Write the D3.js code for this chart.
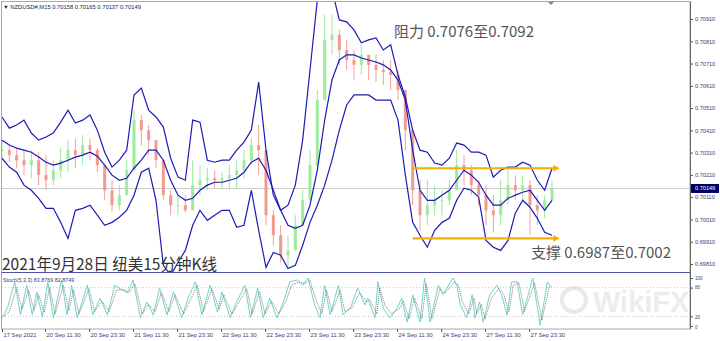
<!DOCTYPE html>
<html><head><meta charset="utf-8">
<script src="https://cdn.jsdelivr.net/npm/d3@7"></script>
<style>
body{margin:0;background:#fff;}
svg{display:block;font-family:"Liberation Sans",Arial,sans-serif;}
</style></head><body>
<svg id="chart" width="720" height="341"></svg>
<script>
// one sample every 8 bars of M15
const step = 8;
const upper = [0.70470,0.70420,0.70434,0.70456,0.70398,0.70366,0.70380,0.70398,0.70447,0.70501,0.70443,0.70456,0.70479,0.70411,0.70312,0.70245,0.70276,0.70321,0.70569,0.70600,0.70501,0.70470,0.70425,0.70285,0.70200,0.70186,0.70456,0.70447,0.70276,0.70267,0.70276,0.70276,0.70321,0.70357,0.70411,0.70627,0.70321,0.70119,0.70051,0.70074,0.70164,0.70366,0.70681,0.70996,0.71086,0.71041,0.70906,0.70897,0.70861,0.70803,0.70816,0.70825,0.70771,0.70794,0.70659,0.70560,0.70411,0.70321,0.70312,0.70263,0.70254,0.70285,0.70353,0.70344,0.70312,0.70312,0.70299,0.70200,0.70231,0.70245,0.70245,0.70267,0.70254,0.70186,0.70141,0.70240];
const middle = [0.70366,0.70344,0.70330,0.70321,0.70312,0.70290,0.70267,0.70254,0.70263,0.70276,0.70290,0.70299,0.70312,0.70294,0.70254,0.70209,0.70186,0.70195,0.70240,0.70276,0.70321,0.70321,0.70276,0.70186,0.70119,0.70096,0.70105,0.70141,0.70164,0.70177,0.70177,0.70186,0.70195,0.70222,0.70267,0.70285,0.70231,0.70141,0.70051,0.69984,0.69970,0.69984,0.70074,0.70231,0.70456,0.70636,0.70726,0.70749,0.70749,0.70735,0.70726,0.70717,0.70704,0.70681,0.70636,0.70546,0.70321,0.70141,0.70096,0.70096,0.70119,0.70141,0.70186,0.70231,0.70209,0.70177,0.70119,0.70074,0.70074,0.70105,0.70119,0.70132,0.70141,0.70096,0.70051,0.70096];
const lower = [0.70285,0.70245,0.70222,0.70164,0.70141,0.70105,0.70060,0.70060,0.69997,0.69925,0.70051,0.70060,0.70074,0.70029,0.69984,0.69997,0.70020,0.70051,0.70119,0.70222,0.70240,0.70096,0.69804,0.69759,0.69817,0.69871,0.69984,0.70051,0.70006,0.70029,0.70051,0.70051,0.69975,0.69984,0.70141,0.69961,0.69795,0.69862,0.69849,0.69790,0.69804,0.69894,0.69997,0.70074,0.70164,0.70276,0.70411,0.70524,0.70569,0.70569,0.70569,0.70546,0.70546,0.70546,0.70456,0.70209,0.69997,0.69939,0.69885,0.69961,0.69997,0.70015,0.70096,0.70150,0.70141,0.70110,0.69916,0.69885,0.69871,0.69916,0.70038,0.70096,0.70065,0.70015,0.69952,0.69939];
const highs = [0.70366,0.70344,0.70330,0.70321,0.70321,0.70312,0.70299,0.70276,0.70330,0.70366,0.70375,0.70389,0.70375,0.70330,0.70254,0.70186,0.70164,0.70276,0.70501,0.70479,0.70434,0.70366,0.70276,0.70141,0.70119,0.70119,0.70276,0.70254,0.70240,0.70231,0.70222,0.70254,0.70276,0.70321,0.70375,0.70434,0.70231,0.70051,0.69984,0.69939,0.70029,0.70141,0.70321,0.70591,0.70929,0.70929,0.70861,0.70816,0.70771,0.70794,0.70749,0.70749,0.70726,0.70726,0.70681,0.70569,0.70321,0.70186,0.70186,0.70164,0.70141,0.70186,0.70321,0.70299,0.70254,0.70186,0.70164,0.70119,0.70186,0.70231,0.70209,0.70209,0.70186,0.70119,0.70119,0.70186];
const lows = [0.70285,0.70267,0.70240,0.70209,0.70195,0.70164,0.70141,0.70164,0.70195,0.70222,0.70240,0.70254,0.70276,0.70222,0.70096,0.70042,0.70051,0.70119,0.70321,0.70344,0.70299,0.70240,0.70096,0.70029,0.70029,0.70042,0.70051,0.70119,0.70141,0.70150,0.70150,0.70141,0.70150,0.70195,0.70254,0.70209,0.69984,0.69894,0.69817,0.69790,0.69894,0.69984,0.70096,0.70231,0.70636,0.70749,0.70704,0.70681,0.70636,0.70659,0.70636,0.70627,0.70614,0.70591,0.70546,0.70321,0.70074,0.69961,0.69984,0.70029,0.70029,0.70074,0.70164,0.70164,0.70119,0.70074,0.69984,0.69952,0.69984,0.70074,0.70096,0.70096,0.69939,0.69984,0.70015,0.70096];
const closes = [0.70321,0.70299,0.70276,0.70254,0.70276,0.70209,0.70186,0.70231,0.70276,0.70321,0.70299,0.70344,0.70321,0.70254,0.70141,0.70074,0.70119,0.70231,0.70456,0.70411,0.70366,0.70276,0.70119,0.70074,0.70074,0.70051,0.70164,0.70186,0.70195,0.70186,0.70195,0.70209,0.70231,0.70276,0.70344,0.70321,0.70029,0.69939,0.69849,0.69871,0.69984,0.70096,0.70254,0.70546,0.70816,0.70839,0.70771,0.70726,0.70704,0.70749,0.70704,0.70681,0.70672,0.70659,0.70591,0.70411,0.70141,0.70029,0.70074,0.70096,0.70096,0.70141,0.70254,0.70231,0.70164,0.70119,0.70051,0.70029,0.70096,0.70164,0.70141,0.70164,0.70074,0.70051,0.70096,0.70149];

const stochBars = [0,6,14,20,27,33,38,44,50,56,65,71,76,82,93,99,107,115,123,131,137,143,151,158,165,172,180,187,196,203,211,218,227,235,240,249,256,265,271,279,285,292,300,307,314,322,328,334,341,347,352,358,367,372,380,388,396,399,407,410,416,423,431,436,442,448,456,461,467,476,481,492,496,500,507,513,516,521,525,532,540,545,551,556,562,568,579,587,595,598];
const stochK = [17,38,92,23,85,23,71,19,92,17,96,23,85,17,85,23,58,23,85,75,69,96,17,50,23,79,23,71,17,58,92,23,85,29,71,17,50,85,17,79,17,58,17,50,92,96,85,100,44,17,85,23,85,23,37,79,44,58,17,92,37,17,37,58,8,65,8,100,8,85,65,100,85,44,17,65,17,50,8,65,85,65,23,92,92,23,100,2,92,84];
const stochD = [20,30,80,35,75,32,65,28,80,25,85,32,75,25,78,30,52,30,75,76,70,88,25,45,30,70,30,65,25,52,85,30,78,35,65,25,48,78,25,72,25,52,25,48,85,92,88,95,52,25,75,30,75,30,38,70,50,55,25,80,42,25,35,52,15,58,15,88,15,78,68,92,85,52,25,58,25,45,15,58,78,68,30,85,90,30,90,12,82,83];

const priceTicks = [0.69810,0.69910,0.70010,0.70110,0.70210,0.70310,0.70410,0.70510,0.70610,0.70710,0.70810,0.70910];
const stochTicks = [0, 20, 80, 100];
const timeTicks = [0,47,95,143,191,239,287,335,383,431,479,527,575];
const timeLabels = ['17 Sep 2021','20 Sep 11:30','20 Sep 23:30','21 Sep 11:30','21 Sep 23:30','22 Sep 11:30','22 Sep 23:30','23 Sep 11:30','23 Sep 23:30','24 Sep 11:30','24 Sep 23:30','27 Sep 11:30','27 Sep 23:30'];
const lastPrice = 0.70149;
const levels = [0.70240, 0.69925];
const levelSpan = [448, 605];

const svg = d3.select('#chart');
const plot = {left: 2, right: 690, top: 2, bottom: 272};
const sub = {top: 273, bottom: 329};

const x = d3.scaleLinear().domain([0, 600]).range([2, 552]);
const y = d3.scaleLinear().domain([0.69810, 0.70910]).range([264, 19]);
const ys = d3.scaleLinear().domain([0, 100]).range([326, 278]);
const bars = closes.map((d, i) => i * step);

const defs = svg.append('defs');
defs.append('clipPath').attr('id', 'mainClip').append('rect')
  .attr('x', plot.left).attr('y', plot.top).attr('width', plot.right - plot.left).attr('height', plot.bottom - plot.top);
defs.append('clipPath').attr('id', 'subClip').append('rect')
  .attr('x', plot.left).attr('y', sub.top).attr('width', plot.right - plot.left).attr('height', sub.bottom - sub.top);
defs.append('marker').attr('id', 'arrow').attr('viewBox', '0 0 10 10').attr('refX', 5).attr('refY', 5)
  .attr('markerWidth', 3).attr('markerHeight', 3).attr('orient', 'auto')
  .append('path').attr('d', 'M0,0L10,5L0,10z').attr('fill', '#f5b000');

// frame
svg.append('rect').attr('x', 1.5).attr('y', 1.5).attr('width', plot.right - 1.5).attr('height', sub.bottom - 1.5)
  .attr('fill', 'none').attr('stroke', '#a8a8a8');

const main = svg.append('g').attr('clip-path', 'url(#mainClip)');

// current price line
main.append('line').attr('x1', plot.left).attr('x2', plot.right)
  .attr('y1', Math.round(y(lastPrice)) + 0.5).attr('y2', Math.round(y(lastPrice)) + 0.5)
  .attr('stroke', '#cccccc');

// candles
const candles = closes.map((c, i) => ({t: bars[i], o: i ? closes[i - 1] : c, h: highs[i], l: lows[i], c}));
const cg = main.append('g');
cg.selectAll('line').data(candles).enter().append('line')
  .attr('x1', d => x(d.t)).attr('x2', d => x(d.t))
  .attr('y1', d => y(Math.max(d.h, d.o, d.c))).attr('y2', d => y(Math.min(d.l, d.o, d.c)))
  .attr('stroke', d => d.c >= d.o ? '#9ae89a' : '#f2a098').attr('stroke-width', 1);
cg.selectAll('rect').data(candles).enter().append('rect')
  .attr('x', d => x(d.t) - 1.5).attr('width', 3)
  .attr('y', d => y(Math.max(d.o, d.c))).attr('height', d => Math.max(1, Math.abs(y(d.o) - y(d.c))))
  .attr('fill', d => d.c >= d.o ? '#9cec9c' : '#f29a90');

// bollinger bands
const line = d3.line().x((d, i) => x(bars[i])).y(d => y(d));
[upper, middle, lower].forEach(s => {
  main.append('path').attr('d', line(s)).attr('fill', 'none')
    .attr('stroke', '#1c1cb4').attr('stroke-width', 1.2);
});

// support / resistance
levels.forEach(v => {
  main.append('line').attr('x1', x(levelSpan[0])).attr('x2', x(levelSpan[1]))
    .attr('y1', y(v)).attr('y2', y(v))
    .attr('stroke', '#f5b000').attr('stroke-width', 2.2).attr('marker-end', 'url(#arrow)');
});

// price axis
const yAxis = svg.append('g').attr('transform', `translate(${plot.right},0)`)
  .call(d3.axisRight(y).tickValues(priceTicks).tickSize(3).tickFormat(d3.format('.5f')));
yAxis.select('.domain').remove();
yAxis.selectAll('text').attr('font-size', 5.6).attr('fill', '#3a3a7a').attr('x', 5);
yAxis.selectAll('line').attr('stroke', '#555');

// last price box
svg.append('rect').attr('x', plot.right + 1).attr('y', y(lastPrice) - 4.5).attr('width', 28).attr('height', 9).attr('fill', '#000066');
svg.append('text').attr('x', plot.right + 5).attr('y', y(lastPrice) + 2).attr('font-size', 5.6).attr('fill', '#fff').text(lastPrice.toFixed(5));

// separator between panels
svg.append('line').attr('x1', plot.left).attr('x2', plot.right).attr('y1', 272.5).attr('y2', 272.5).attr('stroke', '#5050b0');
svg.append('line').attr('x1', plot.right + 0.5).attr('x2', plot.right + 0.5).attr('y1', 1.5).attr('y2', sub.bottom).attr('stroke', '#666');

// watermark (behind the indicator lines)
const wm = svg.append('g').attr('opacity', 0.55);
wm.append('circle').attr('cx', 574).attr('cy', 300).attr('r', 12).attr('fill', 'none').attr('stroke', '#d8d8d8').attr('stroke-width', 4);
wm.append('text').attr('x', 593).attr('y', 312).attr('font-size', 29).attr('font-weight', 'bold').attr('fill', '#dedede')
  .text('WikiFX');

// stochastic
const subG = svg.append('g').attr('clip-path', 'url(#subClip)');
[20, 80].forEach(v => {
  subG.append('line').attr('x1', plot.left).attr('x2', plot.right).attr('y1', ys(v)).attr('y2', ys(v))
    .attr('stroke', '#c8c8c8').attr('stroke-dasharray', '1,2');
});
const kLine = d3.line().x((d, i) => x(stochBars[i])).y(d => ys(d));
const dLine = d3.line().x((d, i) => x(stochBars[i] + 2)).y(d => ys(d));
subG.append('path').attr('d', kLine(stochK)).attr('fill', 'none').attr('stroke', '#70d4c8').attr('stroke-width', 1);
subG.append('path').attr('d', dLine(stochD)).attr('fill', 'none').attr('stroke', '#707070').attr('stroke-width', 0.9).attr('stroke-dasharray', '1,1');

const sAxis = svg.append('g').attr('transform', `translate(${plot.right},0)`)
  .call(d3.axisRight(ys).tickValues(stochTicks).tickSize(3));
sAxis.select('.domain').remove();
const sLabelY = {100: 279.5, 80: 288.5, 20: 318.5, 0: 328.5};
sAxis.selectAll('text').attr('font-size', 4.6).attr('fill', '#3a3a7a').attr('x', 5)
  .attr('dy', null).attr('y', d => sLabelY[d]).attr('transform', d => `translate(0,${-ys(d)})`);
sAxis.selectAll('line').attr('stroke', '#555');

// time axis
const xAxis = svg.append('g').attr('transform', `translate(0,${sub.bottom})`)
  .call(d3.axisBottom(x).tickValues(timeTicks).tickSize(3).tickFormat((d, i) => timeLabels[i]));
xAxis.select('.domain').remove();
xAxis.selectAll('text').attr('font-size', 5.8).attr('fill', '#3a3a7a').attr('text-anchor', 'start').attr('dx', 1).attr('y', 4);
xAxis.selectAll('line').attr('stroke', '#555');

// labels
svg.append('text').attr('x', 3).attr('y', 8.5).attr('font-size', 5.8).attr('fill', '#20205a')
  .text('\u25BC NZDUSD#,M15  0.70158 0.70165 0.70137 0.70149');
svg.append('text').attr('x', 3).attr('y', 281.5).attr('font-size', 5.4).attr('fill', '#3a3a7a')
  .text('Stoch(5,3,3) 83.8769 82.8749');
svg.append('path').attr('d', 'M548,2L554,2L551,5z').attr('fill', '#888');

const cjk = '"Noto Sans CJK SC","Noto Sans",sans-serif';
svg.append('text').attr('x', 394).attr('y', 37).attr('font-family', cjk).attr('font-size', 15).attr('fill', '#555')
  .text('阻力 0.7076至0.7092');
svg.append('text').attr('x', 531).attr('y', 258).attr('font-family', cjk).attr('font-size', 15).attr('fill', '#555')
  .text('支撑 0.6987至0.7002');
svg.append('text').attr('x', 2).attr('y', 270).attr('font-family', cjk).attr('font-size', 15.5).attr('fill', '#333')
  .text('2021年9月28日 纽美15分钟K线');
</script>
</body></html>
